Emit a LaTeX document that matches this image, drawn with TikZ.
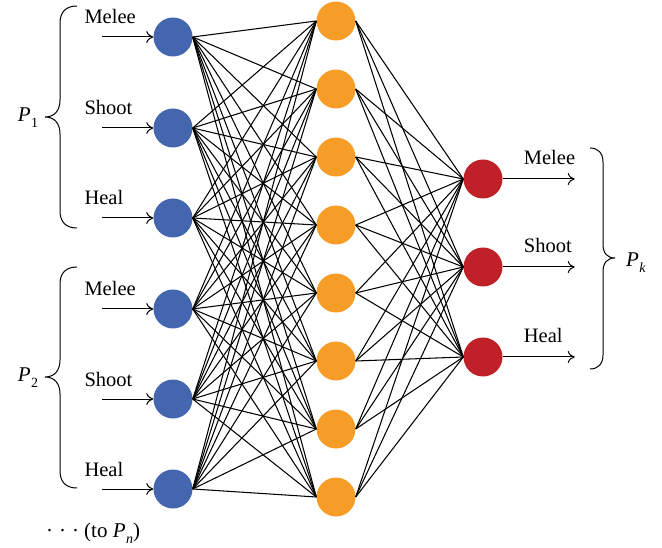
\documentclass[tikz,border=0pt]{standalone}
\usepackage{fontspec}
\setmainfont{Liberation Serif}
\usetikzlibrary{arrows.meta}
\definecolor{inblue}{RGB}{68,102,175}
\definecolor{hidorange}{RGB}{245,157,38}
\definecolor{outred}{RGB}{192,32,40}
% italic P with a lowered index
\newcommand{\Pidx}[1]{\textit{P}\kern0.5pt\raisebox{-0.28em}{\fontsize{14}{15}\selectfont #1}}
\newcommand{\spreaddots}{\makebox[13pt][l]{\textperiodcentered}\makebox[13pt][l]{\textperiodcentered}\makebox[12pt][l]{\textperiodcentered}}
\begin{document}
\begin{tikzpicture}[x=1pt,y=-1pt,
  neuron/.style={circle,minimum size=39pt,inner sep=0pt,draw=none},
  innode/.style={neuron,fill=inblue},
  hidnode/.style={neuron,fill=hidorange},
  outnode/.style={neuron,fill=outred},
  link/.style={line width=1.05pt,black},
  feed/.style={line width=1pt,-{To[length=7pt,width=12pt]}},
  tag/.style={anchor=base west,inner sep=0pt,font=\fontsize{20.5}{22}\selectfont},
  grp/.style={font=\fontsize{21}{23}\selectfont,inner sep=0pt},
  bracket/.style={line width=1pt}]
\useasboundingbox (0,0) rectangle (662,548);

% input layer
\foreach \n/\y in {1/37,2/128,3/218,4/309,5/399,6/489}
  \node[innode] (i\n) at (173,\y) {};
% hidden layer
\foreach \n/\y in {1/21,2/89,3/157,4/225,5/293,6/361,7/429,8/497}
  \node[hidnode] (h\n) at (336,\y) {};
% output layer
\foreach \n/\y in {1/179,2/267,3/357}
  \node[outnode] (o\n) at (483,\y) {};

% full connections
\foreach \a in {1,...,6}
  \foreach \b in {1,...,8}
    \draw[link] (i\a.east) -- (h\b.west);
\foreach \a in {1,...,8}
  \foreach \b in {1,...,3}
    \draw[link] (h\a.east) -- (o\b.west);

% input arrows and labels
\foreach \n/\t in {1/Melee,2/Shoot,3/Heal,4/Melee,5/Shoot,6/Heal}{
  \coordinate (s\n) at ([xshift=-51pt]i\n.west);
  \draw[feed] (s\n) -- (i\n.west);
  \node[tag] (lin\n) at ([xshift=-18pt,yshift=13pt]s\n) {\t};
}

% output arrows and labels
\foreach \n/\t in {1/Melee,2/Shoot,3/Heal}{
  \coordinate (e\n) at ([xshift=72pt]o\n.east);
  \draw[feed] (o\n.east) -- (e\n);
  \node[tag] (lout\n) at ([xshift=21pt,yshift=14pt]o\n.east) {\t};
}

% braces
\draw[bracket] (77,6) .. controls (66,6) and (60,12) .. (60,23) -- (60,100)
  .. controls (60,110) and (55,117) .. (45,117)
  .. controls (55,117) and (60,124) .. (60,134) -- (60,211)
  .. controls (60,222) and (66,228) .. (77,228);
\draw[bracket] (77,267) .. controls (66,267) and (60,273) .. (60,284) -- (60,360)
  .. controls (60,370) and (55,377) .. (45,377)
  .. controls (55,377) and (60,384) .. (60,394) -- (60,471)
  .. controls (60,482) and (66,488) .. (77,488);
\draw[bracket] (590,148) .. controls (598,148) and (603,153) .. (603,162) -- (603,244)
  .. controls (603,253) and (607,258) .. (615,258)
  .. controls (607,258) and (603,263) .. (603,272) -- (603,355)
  .. controls (603,364) and (598,369) .. (590,369);

% group labels
\node[grp] (p1) at (28,118) {\Pidx{1}};
\node[grp] (p2) at (28,378) {\Pidx{2}};
\node[grp] (pk) at (636,263) {\Pidx{\textit{k}}};
\node[grp,anchor=west] (pn) at (46,533) {\spreaddots(to \Pidx{\textit{n}})};
\end{tikzpicture}
\end{document}
